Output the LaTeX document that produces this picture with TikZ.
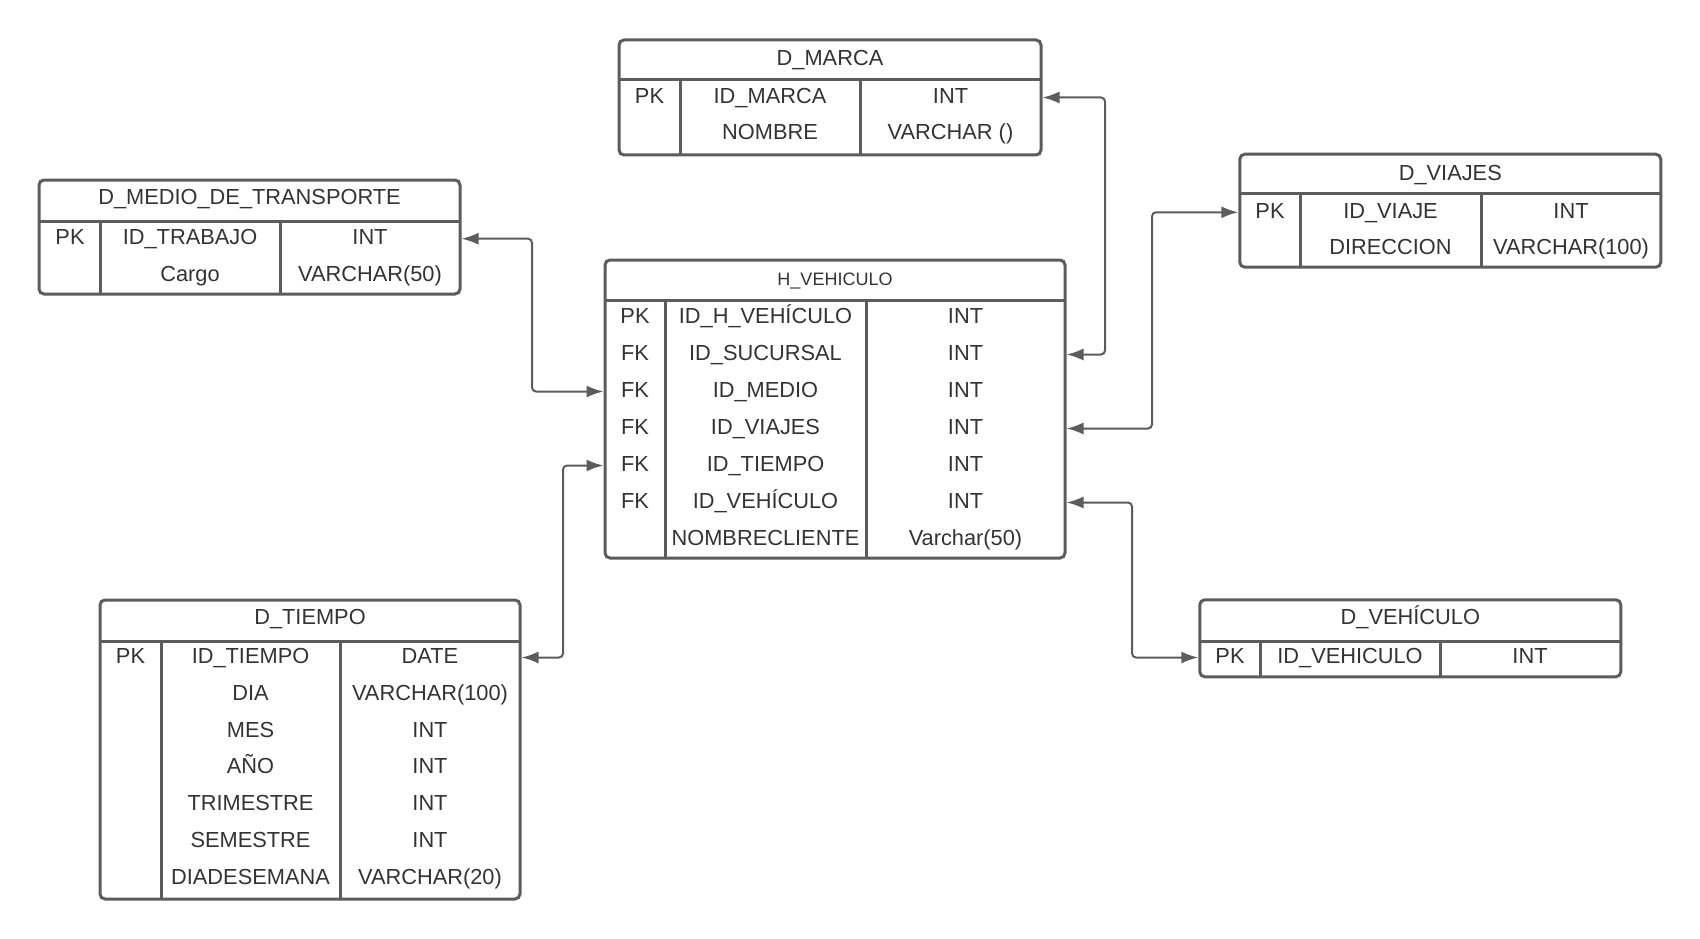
\documentclass[tikz,border=0pt]{standalone}
\usepackage{fontspec}
\setmainfont{Liberation Sans}
\usetikzlibrary{arrows.meta,positioning}
\definecolor{frame}{HTML}{5C5C5C}
\definecolor{ink}{HTML}{333333}

\begin{document}
\begin{tikzpicture}[x=1pt,y=-1pt,
  every node/.style={font=\fontsize{21.8}{24}\selectfont,text=ink},
  tbl/.style={draw=frame,line width=3pt,rounded corners=5pt,inner sep=0pt},
  cell/.style={inner sep=0pt,text height=16pt,text depth=4.6pt},
  sep/.style={draw=frame,line width=3pt},
  rel/.style={{Latex[length=17pt,width=12pt]}-{Latex[length=17pt,width=12pt]},draw=frame,line width=2pt,rounded corners=4pt}]
\useasboundingbox (0,0) rectangle (1700,939);

% D_MARCA
\node[tbl,minimum width=422pt,minimum height=115pt] (marca) at (830,97.5) {};
\node[cell] (marca-h) at (830,59.5) {D\_MARCA};
\draw[sep] (619,80) -- (1041,80); \draw[sep] (680,80) -- (680,155); \draw[sep] (860,80) -- (860,155);
\foreach \k/\n/\t [count=\i] in {PK/ID\_MARCA/INT,{}/NOMBRE/VARCHAR ()}{
  \node[cell] (marca-k\i) at (649.5,{97.5+36*(\i-1)}) {\k};
  \node[cell] (marca-n\i) at (770,{97.5+36*(\i-1)}) {\n};
  \node[cell] (marca-t\i) at (950.5,{97.5+36*(\i-1)}) {\t};
}

% D_MEDIO_DE_TRANSPORTE
\node[tbl,minimum width=421pt,minimum height=114pt] (medio) at (249.5,237) {};
\node[cell] (medio-h) at (249.5,199) {D\_MEDIO\_DE\_TRANSPORTE};
\draw[sep] (39,221) -- (460,221); \draw[sep] (100.7,221) -- (100.7,294); \draw[sep] (280,221) -- (280,294);
\foreach \k/\n/\t [count=\i] in {PK/ID\_TRABAJO/INT,{}/Cargo/VARCHAR(50)}{
  \node[cell] (medio-k\i) at (70,{238.7+36.6*(\i-1)}) {\k};
  \node[cell] (medio-n\i) at (190,{238.7+36.6*(\i-1)}) {\n};
  \node[cell] (medio-t\i) at (370,{238.7+36.6*(\i-1)}) {\t};
}

% H_VEHICULO
\node[tbl,minimum width=460pt,minimum height=298pt] (hv) at (835,409) {};
\node[cell,font=\fontsize{18}{20}\selectfont] (hv-h) at (835,279.5) {H\_VEHICULO};
\draw[sep] (605,300) -- (1065,300); \draw[sep] (665,300) -- (665,558); \draw[sep] (866,300) -- (866,558);
\foreach \k/\n/\t [count=\i] in {PK/ID\_H\_VEHÍCULO/INT,FK/ID\_SUCURSAL/INT,FK/ID\_MEDIO/INT,FK/ID\_VIAJES/INT,
    FK/ID\_TIEMPO/INT,FK/ID\_VEHÍCULO/INT,{}/NOMBRECLIENTE/Varchar(50)}{
  \node[cell] (hv-k\i) at (635,{317.5+37*(\i-1)}) {\k};
  \node[cell] (hv-n\i) at (765.5,{317.5+37*(\i-1)}) {\n};
  \node[cell] (hv-t\i) at (965.5,{317.5+37*(\i-1)}) {\t};
}

% D_VIAJES
\node[tbl,minimum width=421pt,minimum height=113pt] (viajes) at (1450.3,210.7) {};
\node[cell] (viajes-h) at (1450.3,174.5) {D\_VIAJES};
\draw[sep] (1240,193.3) -- (1661,193.3); \draw[sep] (1300,193.3) -- (1300,267.3); \draw[sep] (1481,193.3) -- (1481,267.3);
\foreach \k/\n/\t [count=\i] in {PK/ID\_VIAJE/INT,{}/DIRECCION/VARCHAR(100)}{
  \node[cell] (viajes-k\i) at (1270,{212.3+36.7*(\i-1)}) {\k};
  \node[cell] (viajes-n\i) at (1390.5,{212.3+36.7*(\i-1)}) {\n};
  \node[cell] (viajes-t\i) at (1571,{212.3+36.7*(\i-1)}) {\t};
}

% D_TIEMPO
\node[tbl,minimum width=420pt,minimum height=299pt] (tiempo) at (310,749.5) {};
\node[cell] (tiempo-h) at (310,618.7) {D\_TIEMPO};
\draw[sep] (100,641) -- (520,641); \draw[sep] (161,641) -- (161,899); \draw[sep] (340,641) -- (340,899);
\foreach \k/\n/\t [count=\i] in {PK/ID\_TIEMPO/DATE,{}/DIA/VARCHAR(100),{}/MES/INT,{}/AÑO/INT,{}/TRIMESTRE/INT,
    {}/SEMESTRE/INT,{}/DIADESEMANA/VARCHAR(20)}{
  \node[cell] (tiempo-k\i) at (130.5,{657.5+36.9*(\i-1)}) {\k};
  \node[cell] (tiempo-n\i) at (250.5,{657.5+36.9*(\i-1)}) {\n};
  \node[cell] (tiempo-t\i) at (430,{657.5+36.9*(\i-1)}) {\t};
}

% D_VEHICULO
\node[tbl,minimum width=421pt,minimum height=77pt] (veh) at (1410.3,638.3) {};
\node[cell] (veh-h) at (1410.3,618.7) {D\_VEHÍCULO};
\draw[sep] (1200,641) -- (1621,641); \draw[sep] (1260,641) -- (1260,677); \draw[sep] (1440,641) -- (1440,677);
\node[cell] (veh-k1) at (1230,657.5) {PK};
\node[cell] (veh-n1) at (1350,657.5) {ID\_VEHICULO};
\node[cell] (veh-t1) at (1530,657.5) {INT};

% relaciones
\coordinate (bm) at (1105,0); \coordinate (bt) at (532,0); \coordinate (bv) at (1152,0);
\coordinate (bti) at (563,0); \coordinate (bve) at (1132,0);
\draw[rel] (marca.east |- marca-t1) -- (bm |- marca-t1) -- (bm |- hv-t2) -- (hv.east |- hv-t2);
\draw[rel] (medio.east |- medio-t1) -- (bt |- medio-t1) -- (bt |- hv-k3) -- (hv.west |- hv-k3);
\draw[rel] (viajes.west |- viajes-k1) -- (bv |- viajes-k1) -- (bv |- hv-t4) -- (hv.east |- hv-t4);
\draw[rel] (tiempo.east |- tiempo-t1) -- (bti |- tiempo-t1) -- (bti |- hv-k5) -- (hv.west |- hv-k5);
\draw[rel] (veh.west |- veh-k1) -- (bve |- veh-k1) -- (bve |- hv-t6) -- (hv.east |- hv-t6);
\end{tikzpicture}
\end{document}
